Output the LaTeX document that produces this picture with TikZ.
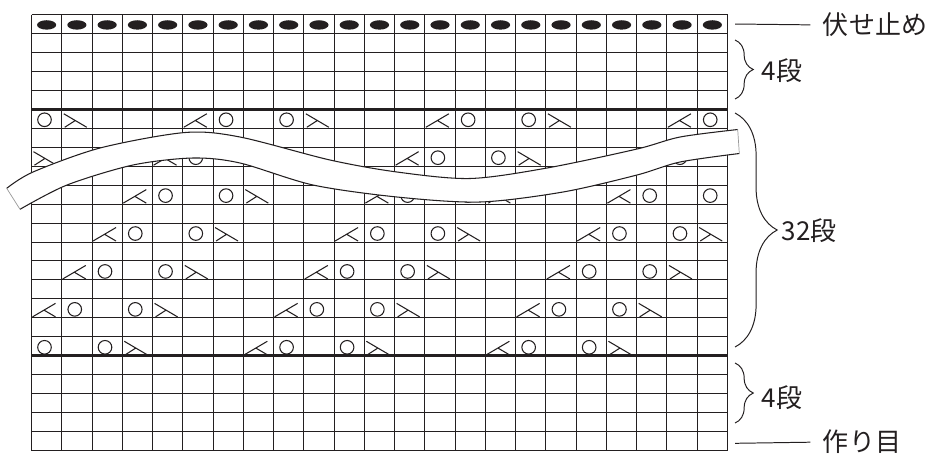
\documentclass[tikz,border=0pt]{standalone}
\usepackage{fontspec}
\newfontfamily\jpfont{Noto Sans CJK JP}
\usepackage{tikz}
\usetikzlibrary{decorations.pathreplacing}
\definecolor{chartink}{RGB}{35,31,32}
\definecolor{endgray}{gray}{0.6}
\tikzset{
  gridln/.style={chartink,line width=0.85pt},
  thickln/.style={chartink,line width=1.8pt},
  symln/.style={chartink,line width=0.75pt},
  bandln/.style={chartink,line width=0.75pt},
  leadln/.style={chartink,line width=0.7pt},
  bracesym/.style={chartink,line width=0.7pt,decorate,decoration={brace,amplitude=#1}},
  lab/.style={font=\jpfont\fontsize{18.5pt}{22pt}\selectfont,text=chartink,anchor=west,inner sep=0pt},
  yo/.pic={\draw[symln] (13,-8.5) circle[radius=6.8];},
  lk/.pic={\draw[symln] (1,-1) -- (24,-14.5) (24,-1) -- (12.5,-7.75);},
  rk/.pic={\draw[symln] (2,-14.5) -- (25,-1) (3,-1) -- (13.5,-7.75);},
}
% one chart symbol, only inside the 23 columns
\newcommand\chartsym[3]{%
  \ifnum#2>-1\relax\ifnum#2<23\relax\pic at ({#2*\cw},#3) {#1};\fi\fi}

\begin{document}
\begin{tikzpicture}[x=0.25mm,y=-0.25mm]
  \useasboundingbox (0,0) rectangle (929,454);
  \def\cw{30.26}\def\ch{18.96}
  \begin{scope}[shift={(31.5,14.5)}]
    % grid 23 x 23, lines kept on whole pixels
    \foreach \i in {0,...,23}{
      \pgfmathsetmacro\gx{round(\i*\cw)}
      \draw[gridln] (\gx,0) -- (\gx,436);}
    \foreach \j in {0,...,23}{
      \pgfmathsetmacro\gy{round(\j*\ch)}
      \draw[gridln] (0,\gy) -- (696,\gy);}
    \draw[thickln] (0,95) -- (696,95);
    \draw[thickln] (0,341) -- (696,341);
    % bind-off row
    \foreach \i in {0,...,22}
      \fill[chartink] ({(\i+0.5)*\cw},0.55*\ch) ellipse[x radius=9.6,y radius=4.7];
    % lace rows: decrease, yarn over, yarn over, decrease (repeat of 8)
    \foreach \r/\s in {5/5,7/4,9/3,11/2,13/1,15/0,17/-1}{
      \pgfmathsetmacro\yb{(\r+1)*\ch}
      \foreach \k in {-8,0,8,16}{
        \pgfmathtruncatemacro\cL{\s+\k}
        \pgfmathtruncatemacro\cA{\s+\k+1}
        \pgfmathtruncatemacro\cB{\s+\k+3}
        \pgfmathtruncatemacro\cR{\s+\k+4}
        \chartsym{lk}{\cL}{\yb}
        \chartsym{yo}{\cA}{\yb}
        \chartsym{yo}{\cB}{\yb}
        \chartsym{rk}{\cR}{\yb}
      }
    }
  \end{scope}
  % omitted rows band
  \fill[white] plot[smooth] coordinates {(6.7,188.3) (33,172) (100,148) (185,132.5)
      (240,137) (330,160) (397,172) (470,178.5) (547,168) (637,149) (680,137) (737.7,129.5)}
    -- plot[smooth] coordinates {(739.3,153.5) (680,162) (637,175) (563,192) (480,202)
      (397,197) (313,185) (240,163) (193,158) (133,165) (67,185) (20,209.3)} -- cycle;
  \draw[bandln] plot[smooth] coordinates {(6.7,188.3) (33,172) (100,148) (185,132.5)
      (240,137) (330,160) (397,172) (470,178.5) (547,168) (637,149) (680,137) (737.7,129.5)};
  \draw[bandln] plot[smooth] coordinates {(20,209.3) (67,185) (133,165) (193,158) (240,163)
      (313,185) (397,197) (480,202) (563,192) (637,175) (680,162) (739.3,153.5)};
  \draw[endgray,line width=0.5pt] (6.7,188.3) -- (20,209.3) (737.7,129.5) -- (739.3,153.5);
  % braces and labels
  \coordinate (topA) at (735,40);  \coordinate (topB) at (735,99);
  \coordinate (midA) at (735,113); \coordinate (midB) at (735,347);
  \coordinate (botA) at (735,363); \coordinate (botB) at (735,423);
  \draw[bracesym=13] (topA) -- (topB);
  \draw[bracesym=30] (midA) -- (midB);
  \draw[bracesym=13] (botA) -- (botB);
  \node[lab] (topcnt) at (761.7,71) {4段};
  \node[lab] (midcnt) at (781.7,231) {32段};
  \node[lab] (botcnt) at (761.7,397.5) {4段};
  % bind-off and cast-on
  \coordinate (bindoff) at (735,24);
  \coordinate (caston) at (735,443.3);
  \node[lab] (bindlab) at (822.7,25) {伏せ止め};
  \node[lab] (castlab) at (822.7,442) {作り目};
  \draw[leadln,shorten >=3.1mm] (bindoff) -- (bindlab.west);
  \draw[leadln,shorten >=3.1mm] (caston) -- (castlab.west);
\end{tikzpicture}
\end{document}
